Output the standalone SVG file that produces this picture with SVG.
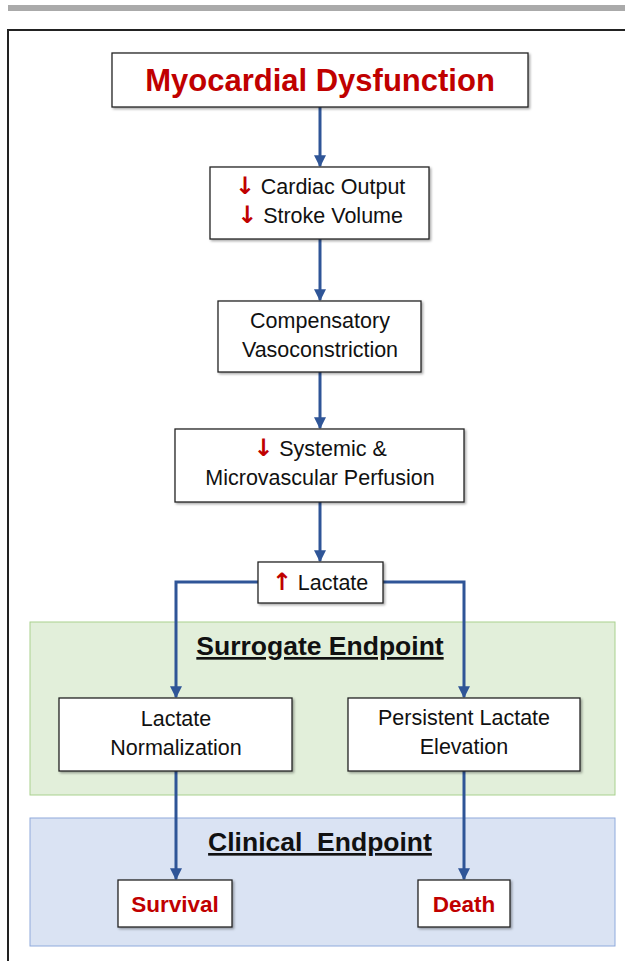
<svg xmlns="http://www.w3.org/2000/svg" width="625" height="961" viewBox="0 0 625 961">
<defs>
<marker id="ah" viewBox="0 0 10 10" refX="9" refY="5" markerWidth="4" markerHeight="4" orient="auto" markerUnits="strokeWidth">
<path d="M0,0 L10,5 L0,10 z" fill="#2f5597"/>
</marker>
<filter id="sh" x="-5%" y="-5%" width="115%" height="120%">
<feDropShadow dx="1.5" dy="1.5" stdDeviation="0.8" flood-color="#000" flood-opacity="0.35"/>
</filter>
<style>
.box{fill:#fff;stroke:#222;stroke-width:1.3;filter:url(#sh)}
.t{font-family:"Liberation Sans",Arial,sans-serif;font-size:21.5px;fill:#111;text-anchor:middle}
.rb{font-family:"Liberation Sans",Arial,sans-serif;font-weight:bold;fill:#c00000;text-anchor:middle}
.hd{font-family:"Liberation Sans",Arial,sans-serif;font-weight:bold;font-size:26.5px;fill:#111;text-anchor:middle;text-decoration:underline}
.ar{font-family:"DejaVu Sans",sans-serif;font-weight:bold;font-size:24px;fill:#c00000}
.c{fill:none;stroke:#2f5597;stroke-width:3;marker-end:url(#ah)}
</style>
</defs>
<rect x="0" y="0" width="625" height="961" fill="#fff"/>
<rect x="8" y="5" width="617" height="6" fill="#aaaaaa"/>
<path d="M8,961 V30 H625" fill="none" stroke="#222" stroke-width="2"/>

<g id="surrogate-region">
<rect x="30" y="622" width="585" height="173" fill="#e2efda" stroke="#a9d18e" stroke-width="1"/>
<text class="hd" x="320" y="655">Surrogate Endpoint</text>
</g>
<g id="clinical-region">
<rect x="30" y="818" width="585" height="128" fill="#dae3f3" stroke="#8faadc" stroke-width="1"/>
<text class="hd" x="320" y="851" xml:space="preserve">Clinical  Endpoint</text>
</g>

<g id="connectors">
<path class="c" d="M320,107 V166"/>
<path class="c" d="M320,239 V300"/>
<path class="c" d="M320,372 V428"/>
<path class="c" d="M320,502 V561"/>
<path class="c" d="M258,582 H176 V697"/>
<path class="c" d="M383,582 H464 V697"/>
<path class="c" d="M176,771 V879"/>
<path class="c" d="M464,771 V879"/>
</g>

<g id="myocardial">
<rect class="box" x="112" y="53" width="416" height="54"/>
<text class="rb" x="320" y="91" font-size="31">Myocardial Dysfunction</text>
</g>
<g id="cardiac">
<rect class="box" x="210" y="167" width="219" height="72"/>
<text class="t" x="320" y="194"><tspan class="ar">↓</tspan> Cardiac Output</text>
<text class="t" x="320" y="223"><tspan class="ar">↓</tspan> Stroke Volume</text>
</g>
<g id="vasoconstriction">
<rect class="box" x="218" y="301" width="203" height="71"/>
<text class="t" x="320" y="328">Compensatory</text>
<text class="t" x="320" y="357">Vasoconstriction</text>
</g>
<g id="perfusion">
<rect class="box" x="175" y="429" width="289" height="73"/>
<text class="t" x="320" y="456"><tspan class="ar">↓</tspan> Systemic &amp;</text>
<text class="t" x="320" y="485">Microvascular Perfusion</text>
</g>
<g id="lactate">
<rect class="box" x="258" y="562" width="125" height="41"/>
<text class="t" x="320" y="590"><tspan class="ar">↑</tspan> Lactate</text>
</g>
<g id="normalization">
<rect class="box" x="59" y="698" width="233" height="73"/>
<text class="t" x="176" y="726">Lactate</text>
<text class="t" x="176" y="755">Normalization</text>
</g>
<g id="persistent">
<rect class="box" x="348" y="698" width="232" height="73"/>
<text class="t" x="464" y="725">Persistent Lactate</text>
<text class="t" x="464" y="754">Elevation</text>
</g>
<g id="survival">
<rect class="box" x="118" y="880" width="114" height="47"/>
<text class="rb" x="175" y="912" font-size="22.5">Survival</text>
</g>
<g id="death">
<rect class="box" x="418" y="880" width="92" height="47"/>
<text class="rb" x="464" y="912" font-size="22.5">Death</text>
</g>
</svg>
